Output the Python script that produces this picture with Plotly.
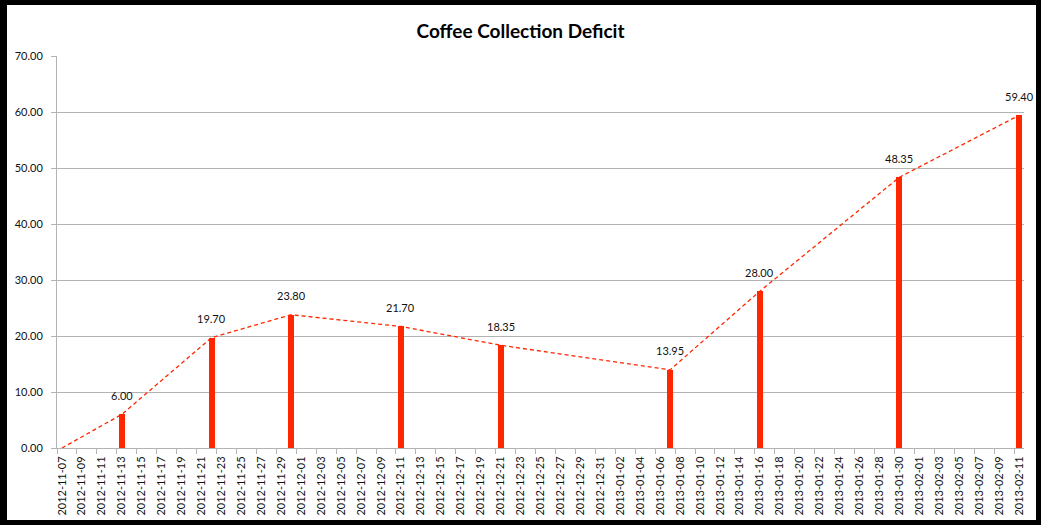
import plotly.graph_objects as go

# Collection dates and outstanding deficit on each date
dates = ["2012-11-07", "2012-11-13", "2012-11-22", "2012-11-30", "2012-12-11",
         "2012-12-21", "2013-01-07", "2013-01-16", "2013-01-30", "2013-02-11"]
deficit = [0.00, 6.00, 19.70, 23.80, 21.70, 18.35, 13.95, 28.00, 48.35, 59.40]

title_text = "Coffee Collection Deficit"
y_ticks = [0, 10, 20, 30, 40, 50, 60, 70]

RED = "#ff2600"
GRID = "#b3b3b3"
FONT = "Lato"
DAY_MS = 86400000

W, H = 1041, 525
ML, MR, MT, MB = 57, 17, 56, 77
PW, PH = W - ML - MR, H - MT - MB


def px_to_paper_x(px):
    return (px - ML) / PW


def px_to_paper_y(py):
    return (H - MB - py) / PH


fig = go.Figure()

fig.add_trace(go.Bar(
    x=dates, y=deficit,
    width=[0.6 * DAY_MS] * len(dates),
    marker=dict(color=RED, line=dict(width=0)),
    showlegend=False,
))

fig.add_trace(go.Scatter(
    x=dates, y=deficit, mode="lines",
    line=dict(color=RED, width=1.3, dash="4px,3px"),
    showlegend=False,
))

# value labels above each non-zero bar
for d, v in zip(dates, deficit):
    if v > 0:
        fig.add_annotation(
            x=d, y=v, text=f"{v:.2f}", showarrow=False,
            yshift=19, font=dict(family=FONT, size=11, color="#111111"),
        )

# white card with a black frame around it
fig.add_shape(
    type="rect", xref="paper", yref="paper", layer="below",
    x0=px_to_paper_x(7), x1=px_to_paper_x(1036),
    y0=px_to_paper_y(520), y1=px_to_paper_y(5),
    fillcolor="white", line=dict(width=0),
)

fig.update_layout(
    width=W, height=H,
    margin=dict(l=ML, r=MR, t=MT, b=MB),
    paper_bgcolor="black",
    plot_bgcolor="white",
    bargap=0,
    title=dict(
        text=title_text, x=0.5, xanchor="center",
        y=1 - 31 / H, yanchor="middle", yref="container",
        font=dict(family=FONT, size=19, color="black", weight="bold"),
    ),
    font=dict(family=FONT, size=11, color="#111111"),
)

fig.update_xaxes(
    type="date",
    range=["2012-11-06 12:00", "2013-02-11 12:00"],
    tick0="2012-11-07", dtick=2 * DAY_MS,
    tickformat="%Y-%m-%d", tickangle=-90,
    ticks="", showgrid=False,
    showline=True, linecolor=GRID, linewidth=1,
    ticklabelstandoff=3, automargin=False,
    tickfont=dict(family=FONT, size=11, color="#111111"),
    minor=dict(ticks="outside", tick0="2012-11-06 12:00", dtick=2 * DAY_MS,
               ticklen=5, tickcolor=GRID, showgrid=False),
)

fig.update_yaxes(
    range=[0, 70], tickvals=y_ticks, tickformat=".2f",
    showgrid=True, gridcolor=GRID, gridwidth=1,
    showline=True, linecolor=GRID, linewidth=1,
    ticks="outside", ticklen=5, tickcolor=GRID,
    ticklabelstandoff=6, automargin=False,
    zeroline=False,
    tickfont=dict(family=FONT, size=11, color="#111111"),
)

fig.write_html("out.html")
